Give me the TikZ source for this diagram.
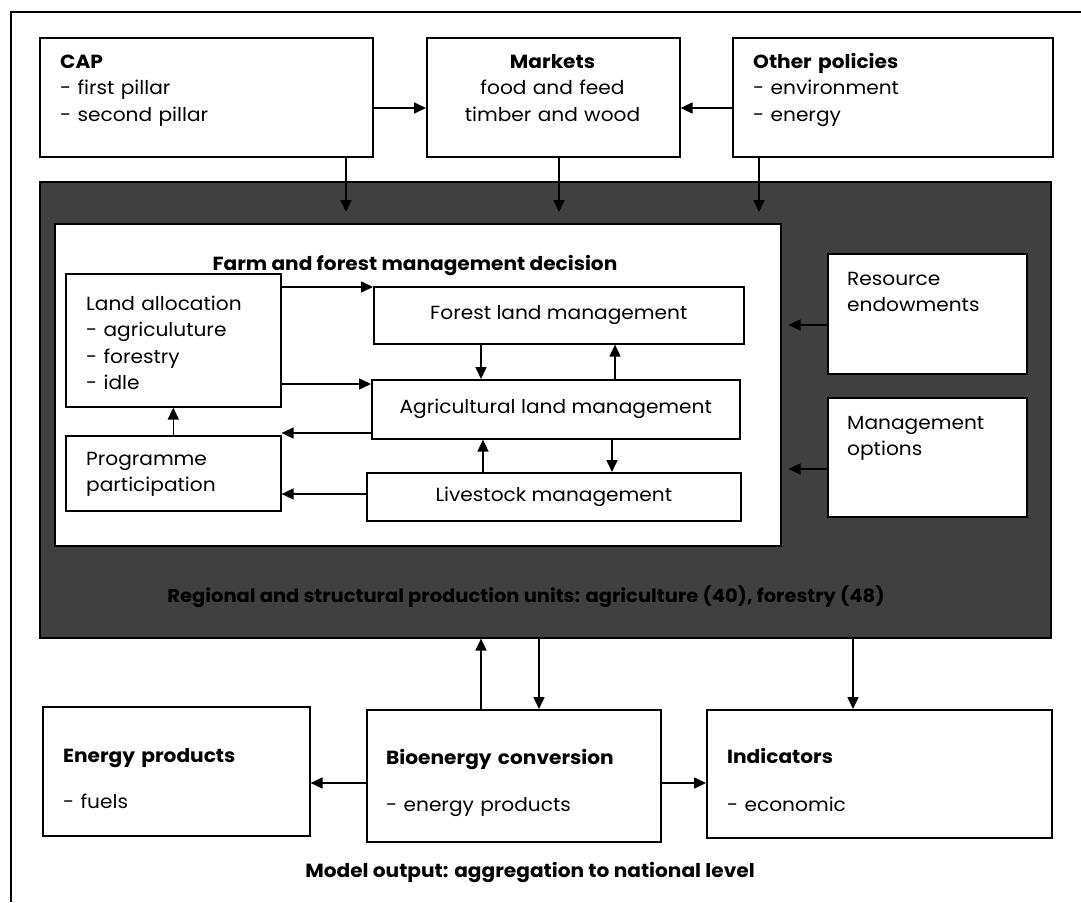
\documentclass[tikz,border=0pt]{standalone}
\usepackage{fontspec}
\setmainfont{Poppins}[FakeStretch=1.06]
\usepackage{tikz}
\usepackage{xcolor}
\definecolor{dgray}{RGB}{64,64,64}
\usetikzlibrary{positioning, calc, arrows.meta}
\tikzstyle{Box} = [
draw,
line width=1.6pt,
fill=white,
anchor=north west,
inner sep=0pt]
\tikzstyle{Txt} = [
anchor=base west,
align=left,
inner sep=0pt,
text width=270pt,
font=\fontsize{19}{26.5}\selectfont]
\tikzstyle{Arrow} = [
line width=1.6pt,
-{Triangle[length=12pt, width=11pt]}]

\begin{document}
\begin{tikzpicture}[x=1pt, y=-1pt]
    \useasboundingbox (0,0) rectangle (1081,902);
    \draw[line width=1.2pt] (11,902) -- (11,12) -- (1081,12);

    % top row
    \node[Box, minimum width=333pt, minimum height=119pt] (1) at (39,37) {};
    \node[Box, minimum width=253pt, minimum height=119pt] (2) at (426,37) {};
    \node[Box, minimum width=320pt, minimum height=119pt] (3) at (732,37) {};
    \node[Txt] (1t) at (60,68) {\textbf{CAP}\\- first pillar\\- second pillar};
    \node[Txt, align=center, anchor=base, text width=240pt] (2t) at (552.5,68) {\textbf{Markets}\\food and feed\\timber and wood};
    \node[Txt] (3t) at (753,68) {\textbf{Other policies}\\- environment\\- energy};

    % production units
    \node[Box, fill=dgray, minimum width=1011pt, minimum height=456pt] (4) at (39,181) {};
    \node[Txt, text width=, anchor=base, font=\fontsize{18.4}{22}\selectfont\bfseries] (4t) at (526,602)
        {Regional and structural production units: agriculture (40), forestry (48)};
    \node[Box, minimum width=726pt, minimum height=322pt] (5) at (54,223) {};
    \node[Txt, text width=, anchor=base, font=\fontsize{19}{22}\selectfont\bfseries] (5t) at (415,270)
        {Farm and forest management decision};

    % decision boxes
    \node[Box, minimum width=215pt, minimum height=133pt] (6) at (65,273) {};
    \node[Txt, text width=190pt] (6t) at (86,310) {Land allocation\\- agriculuture\\- forestry\\- idle};
    \node[Box, minimum width=215pt, minimum height=75pt] (7) at (65,435) {};
    \node[Txt, text width=190pt] (7t) at (86,465) {Programme\\participation};
    \node[Box, minimum width=370pt, minimum height=57pt] (8) at (373,286) {};
    \node[Txt, text width=, anchor=center] (8t) at (8) {Forest land management};
    \node[Box, minimum width=368pt, minimum height=59pt] (9) at (371,379) {};
    \node[Txt, text width=, anchor=center] (9t) at (9) {Agricultural land management};
    \node[Box, minimum width=374pt, minimum height=48pt] (10) at (366,472) {};
    \node[Txt, text width=, anchor=center] (10t) at (10) {Livestock management};

    \node[Box, minimum width=199pt, minimum height=120pt] (11) at (827,253) {};
    \node[Txt, text width=175pt] (11t) at (847,285) {Resource\\endowments};
    \node[Box, minimum width=199pt, minimum height=119pt] (12) at (827,397) {};
    \node[Txt, text width=175pt] (12t) at (847,429) {Management\\options};

    % bottom row
    \node[Box, minimum width=267pt, minimum height=129pt] (13) at (42,706) {};
    \node[Txt, text width=240pt] (13t) at (63,762) {\textbf{Energy products}\\[20pt]- fuels};
    \node[Box, minimum width=294pt, minimum height=132pt] (14) at (366,709) {};
    \node[Txt] (14t) at (386,764) {\textbf{Bioenergy conversion}\\[21pt]- energy products};
    \node[Box, minimum width=345pt, minimum height=128pt] (15) at (706,709) {};
    \node[Txt] (15t) at (727,763) {\textbf{Indicators}\\[22pt]- economic};
    \node[Txt, text width=, anchor=base, font=\fontsize{19}{22}\selectfont\bfseries] (16) at (530,877)
        {Model output: aggregation to national level};

    % connectors
    \draw[Arrow] (1.east |- 0,108) -- (2.west |- 0,108);
    \draw[Arrow] (3.west |- 0,108) -- (2.east |- 0,108);
    \draw[Arrow, shorten >=11pt] (1.south -| 346,0) -- (5.north -| 346,0);
    \draw[Arrow, shorten >=11pt] (2.south -| 559,0) -- (5.north -| 559,0);
    \draw[Arrow, shorten >=11pt] (3.south -| 759,0) -- (5.north -| 759,0);

    \draw[Arrow] (6.east |- 0,287) -- (8.west |- 0,287);
    \draw[Arrow] (6.east |- 0,384) -- (9.west |- 0,384);
    \draw[Arrow] (7.north) -- (6.south);
    \draw[Arrow] (9.west |- 0,433) -- (7.east |- 0,433);
    \draw[Arrow] (10.west |- 0,494) -- (7.east |- 0,494);
    \draw[Arrow] (8.south -| 481,0) -- (9.north -| 481,0);
    \draw[Arrow] (9.north -| 615,0) -- (8.south -| 615,0);
    \draw[Arrow] (10.north -| 483,0) -- (9.south -| 483,0);
    \draw[Arrow] (9.south -| 612,0) -- (10.north -| 612,0);

    \draw[Arrow, shorten >=7pt] (11.west |- 0,325) -- (5.east |- 0,325);
    \draw[Arrow, shorten >=7pt] (12.west |- 0,469) -- (5.east |- 0,469);

    \draw[Arrow] (14.north -| 481,0) -- (4.south -| 481,0);
    \draw[Arrow] (4.south -| 539,0) -- (14.north -| 539,0);
    \draw[Arrow] (4.south -| 853,0) -- (15.north -| 853,0);
    \draw[Arrow] (14.west |- 0,783) -- (13.east |- 0,783);
    \draw[Arrow] (14.east |- 0,783) -- (15.west |- 0,783);
\end{tikzpicture}
\end{document}
